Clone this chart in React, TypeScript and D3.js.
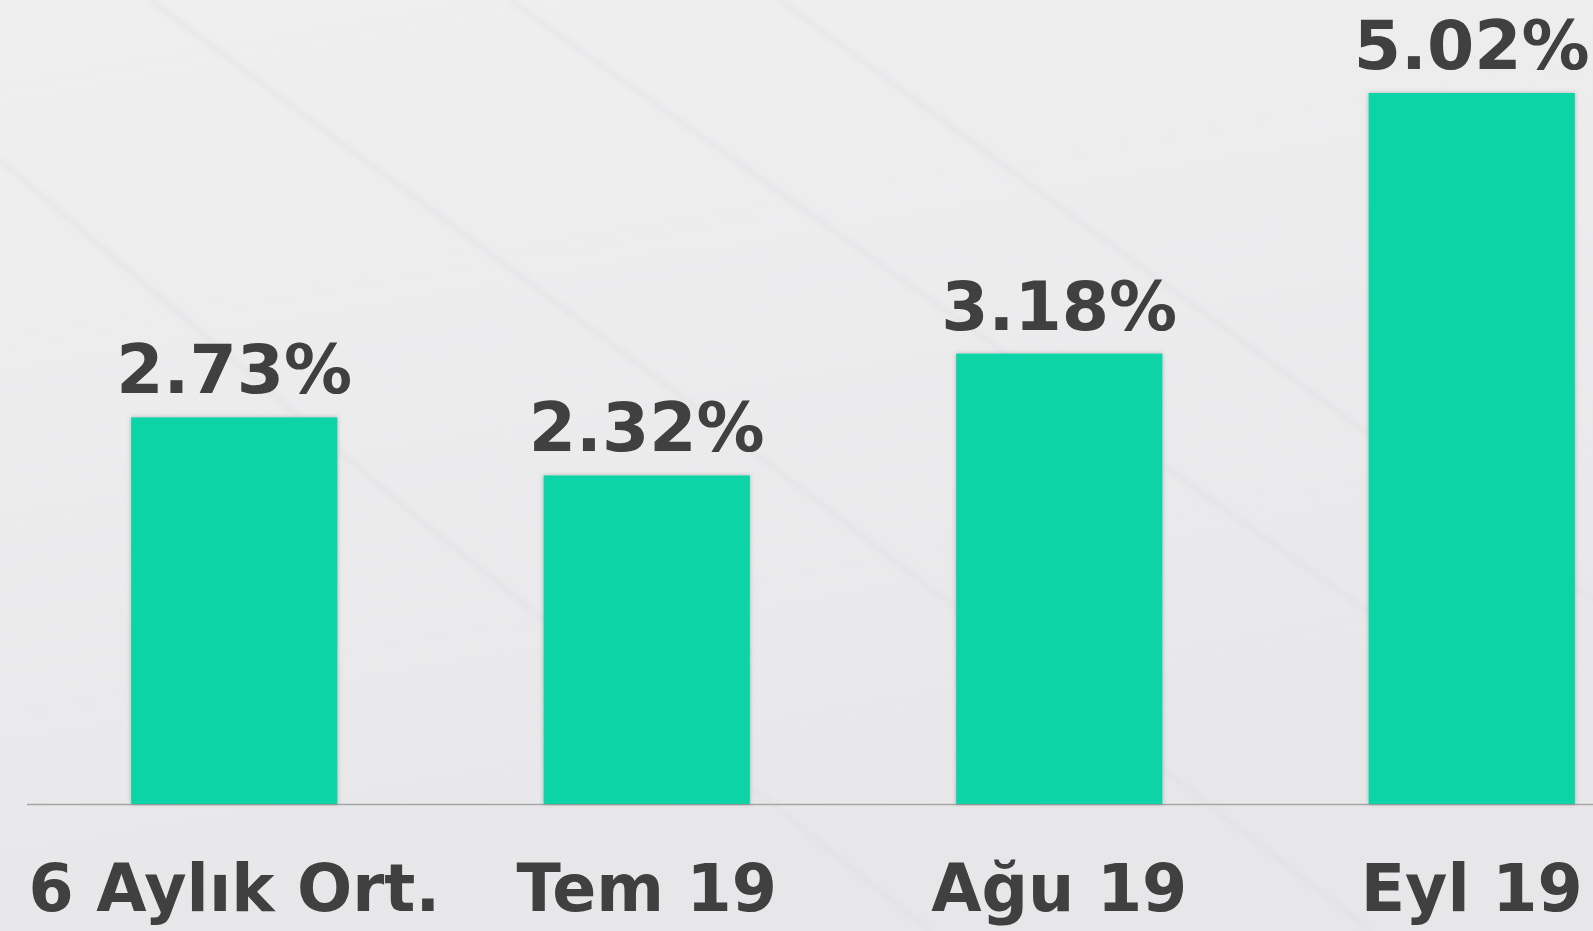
import React, { useEffect, useRef } from "react";
import * as d3 from "d3";

const categories = ["6 Aylık Ort.", "Tem 19", "Ağu 19", "Eyl 19"];
const values = [2.73, 2.32, 3.18, 5.02];
const valueLabels = ["2.73%", "2.32%", "3.18%", "5.02%"];

const W = 1593;
const H = 931;
const baseY = 804;

export default function App() {
  const ref = useRef<SVGSVGElement>(null);

  useEffect(() => {
    document.body.style.margin = "0";
    const svg = d3.select(ref.current);
    svg.selectAll("*").remove();

    const defs = svg.append("defs");
    const grad = defs.append("linearGradient")
      .attr("id", "bg")
      .attr("x1", "0").attr("y1", "0").attr("x2", "0.3").attr("y2", "1");
    grad.append("stop").attr("offset", "0%").attr("stop-color", "#f0eff0");
    grad.append("stop").attr("offset", "100%").attr("stop-color", "#e7e7e9");

    const shadow = defs.append("filter").attr("id", "sh")
      .attr("x", "-5%").attr("y", "-5%").attr("width", "110%").attr("height", "110%");
    shadow.append("feDropShadow")
      .attr("dx", 0).attr("dy", 0).attr("stdDeviation", 2)
      .attr("flood-color", "#000").attr("flood-opacity", 0.25);

    const blur = defs.append("filter").attr("id", "bl");
    blur.append("feGaussianBlur").attr("stdDeviation", 2.5);

    svg.append("rect").attr("width", W).attr("height", H).attr("fill", "url(#bg)");

    // very faint diagonal streaks in the background
    const streaks = [
      "M 150 0 L 700 410 L 1370 930",
      "M 510 0 L 1380 620",
      "M 780 0 L 1593 600",
      "M 0 160 L 420 520 L 930 931",
    ];
    svg.append("g").attr("filter", "url(#bl)")
      .selectAll("path").data(streaks).enter().append("path")
      .attr("d", d => d)
      .attr("fill", "none")
      .attr("stroke", "#dddddf")
      .attr("stroke-width", 5)
      .attr("opacity", 0.45);

    const x = d3.scaleBand<string>()
      .domain(categories)
      .range([28, 1678])
      .paddingInner(0.5)
      .paddingOuter(0.25);

    const y = d3.scaleLinear().domain([0, 5.02]).range([baseY, 93]);

    svg.append("line")
      .attr("x1", 27).attr("x2", W)
      .attr("y1", baseY + 0.5).attr("y2", baseY + 0.5)
      .attr("stroke", "#a6a6a6").attr("stroke-width", 1.3);

    svg.append("g").selectAll("rect").data(values).enter().append("rect")
      .attr("x", (d, i) => x(categories[i])!)
      .attr("y", d => y(d))
      .attr("width", x.bandwidth())
      .attr("height", d => baseY - y(d))
      .attr("fill", "#0fd4a6")
      .attr("filter", "url(#sh)");

    const font = "'DejaVu Sans', Verdana, sans-serif";

    svg.append("g").selectAll("text").data(values).enter().append("text")
      .attr("x", (d, i) => x(categories[i])! + x.bandwidth() / 2)
      .attr("y", d => y(d) - 24)
      .attr("text-anchor", "middle")
      .attr("font-family", font)
      .attr("font-weight", "bold")
      .attr("font-size", 68)
      .attr("fill", "#404040")
      .text((d, i) => valueLabels[i]);

    svg.append("g").selectAll("text").data(categories).enter().append("text")
      .attr("x", d => x(d)! + x.bandwidth() / 2)
      .attr("y", 911)
      .attr("text-anchor", "middle")
      .attr("font-family", font)
      .attr("font-weight", "bold")
      .attr("font-size", 65)
      .attr("fill", "#404040")
      .text(d => d);
  }, []);

  return <svg ref={ref} width={W} height={H} style={{ display: "block" }} />;
}
